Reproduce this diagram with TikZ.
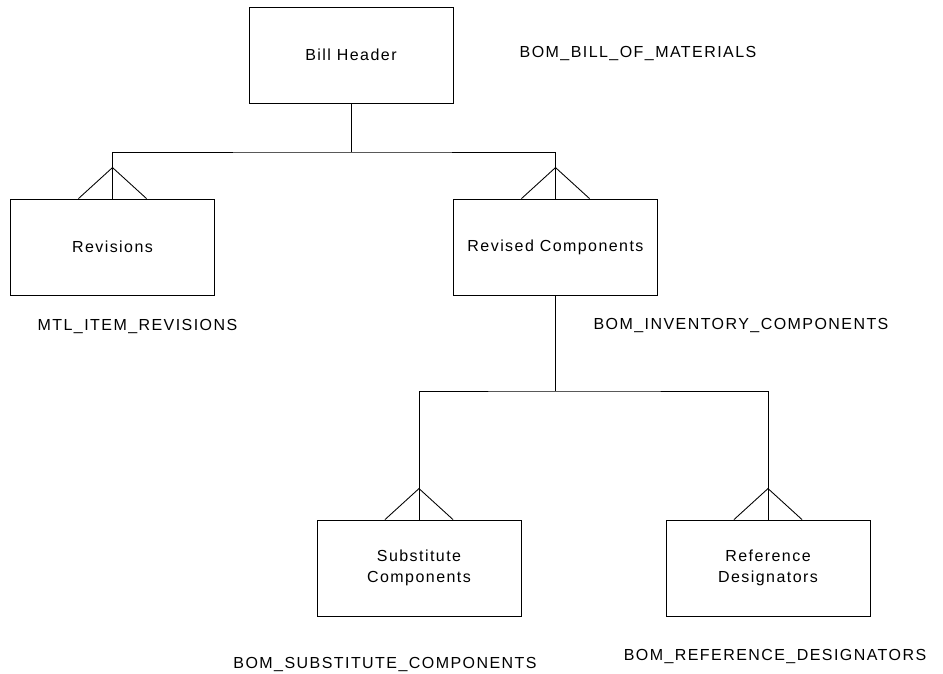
\documentclass[tikz,border=0pt]{standalone}
\usepackage{fontspec}
\setmainfont{Liberation Sans}[LetterSpace=9]
\begin{document}
\begin{tikzpicture}[x=0.75pt,y=-0.75pt,
  every node/.style={font=\fontsize{12}{15.75}\selectfont, inner sep=0pt},
  entity/.style={draw, line width=0.65pt, minimum width=153pt, minimum height=72pt, align=center},
  tablename/.style={anchor=center},
  link/.style={line width=0.65pt}]
\useasboundingbox (0,0) rectangle (943,674);

% entities
\node[entity] (bill) at (351,55) {Bill Header};
\node[entity] (rev)  at (112.5,247) {Revisions};
\node[entity] (revc) at (555.5,247) {Revised Components};
\node[entity] (sub)  at (419,568) {Substitute\\Components};
\node[entity] (refd) at (768,568) {Reference\\Designators};

% table names
\node[tablename] (tbill) at (638,54)  {BOM\_BILL\_OF\_MATERIALS};
\node[tablename] (trev)  at (137.5,327) {MTL\_ITEM\_REVISIONS};
\node[tablename] (tinv)  at (741,326) {BOM\_INVENTORY\_COMPONENTS};
\node[tablename] (tsub)  at (385,664) {BOM\_SUBSTITUTE\_COMPONENTS};
\node[tablename] (tref)  at (775,656) {BOM\_REFERENCE\_DESIGNATORS};

% junction points
\coordinate (j1) at (351,152);
\coordinate (j2) at (555.5,391);

% one-to-many relationships
\draw[link] (bill.south) -- (j1);
\draw[link] (rev.north) |- (j1) -| (revc.north);
\draw[link] (revc.south) -- (j2);
\draw[link] (sub.north) |- (j2) -| (refd.north);

% crow's feet on the many side
\foreach \e in {rev,revc,sub,refd}{
  \draw[link] ([xshift=-25.5pt]\e.north) -- ([yshift=23.25pt]\e.north) -- ([xshift=25.5pt]\e.north);
}
\end{tikzpicture}
\end{document}
